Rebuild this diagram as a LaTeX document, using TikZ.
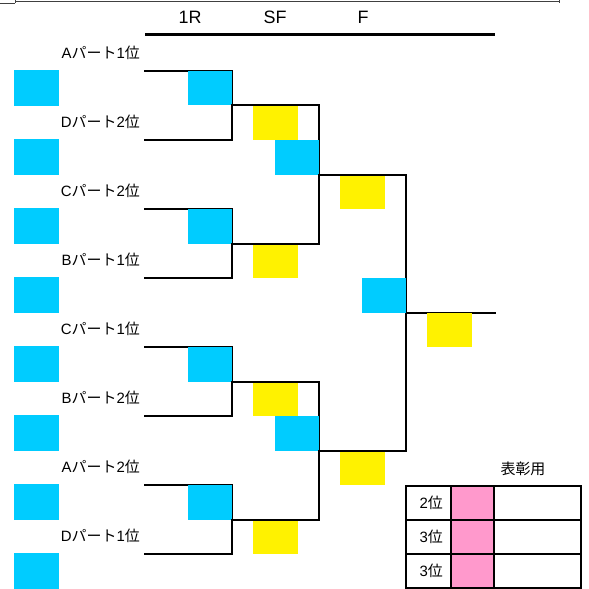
\documentclass[tikz,border=0pt]{standalone}
\usepackage{fontspec}
\setmainfont{Liberation Sans}
\newfontfamily\jp{Noto Sans CJK JP}
\usetikzlibrary{positioning}
\definecolor{SeedCyan}{HTML}{00CCFF}
\definecolor{WinYellow}{HTML}{FFF200}
\definecolor{AwardPink}{HTML}{FF99CC}
\tikzset{
  % Box styles
  seedbox/.style={rectangle, fill=SeedCyan, inner sep=0pt, outer sep=0pt, minimum width=44bp, minimum height=34.5bp},
  winbox/.style={rectangle, fill=WinYellow, inner sep=0pt, outer sep=0pt, minimum width=45bp, minimum height=34.5bp},
  rankcell/.style={rectangle, draw=black, line width=2.5bp, inner sep=0pt, outer sep=0pt, minimum height=34bp, anchor=north west},
  % Line styles
  bracket/.style={line width=2bp, black, line cap=rect},
  % Text styles
  teamlabel/.style={anchor=east, inner sep=0pt, font=\fontsize{15}{17}\selectfont},
  roundlabel/.style={inner sep=0pt, font=\fontsize{18}{20}\selectfont},
  ranklabel/.style={anchor=east, inner sep=0pt, font=\fontsize{15}{17}\selectfont}
}
\begin{document}
\begin{tikzpicture}[x=1bp, y=-1bp]
  \useasboundingbox (0,0) rectangle (589,589);
  % Frame edge at the top
  \draw[line width=0.8bp, black!75] (0,3) -- (15,3) (15,0) -- (15,3) (15,1.5) -- (559,1.5) (559,0) -- (559,3);

  % Round headings
  \node[roundlabel] (r1) at (190,17) {1R};
  \node[roundlabel] (sf) at (275,17) {SF};
  \node[roundlabel] (fi) at (363,17) {F};
  \coordinate (hl) at (145,35);
  \coordinate (hr) at (495,35);
  \draw[line width=3bp] (hl) -- (hr);

  % Entries
  \foreach \p/\r [count=\i from 0] in {A/1,D/2,C/2,B/1,C/1,B/2,A/2,D/1} {
    \coordinate (row\i) at (145,{71+69*\i});
    \node[teamlabel] (lab\i) at ([xshift=-5bp, yshift=18bp]row\i) {\p{\jp パート}\r{\jp 位}};
    \node[seedbox, anchor=north west, minimum width=45bp, minimum height=36bp] (s\i) at ([xshift=-131bp, yshift=1bp]row\i) {};
  }

  % 1R
  \foreach \k in {0,1,2,3} {
    \pgfmathtruncatemacro\a{2*\k}
    \pgfmathtruncatemacro\b{2*\k+1}
    \coordinate (q\k) at (232,{105.5+138*\k});
    \draw[bracket] (row\a) -| (q\k) |- (row\b);
    \node[seedbox, anchor=south east] (qc\k) at (q\k) {};
    \node[winbox, anchor=north west] (qy\k) at ([xshift=21bp]q\k) {};
  }

  % SF
  \foreach \j in {0,1} {
    \pgfmathtruncatemacro\a{2*\j}
    \pgfmathtruncatemacro\b{2*\j+1}
    \coordinate (h\j) at (319,{174.5+276*\j});
    \draw[bracket] (q\a) -| (h\j) |- (q\b);
    \node[seedbox, anchor=south east] (hc\j) at (h\j) {};
    \node[winbox, anchor=north west] (hy\j) at ([xshift=21bp]h\j) {};
  }

  % F
  \coordinate (fj) at (406,312.5);
  \coordinate (champ) at (495,312.5);
  \draw[bracket] (h0) -| (fj) |- (h1);
  \draw[bracket] (fj) -- (champ);
  \node[seedbox, anchor=south east] (fc) at (fj) {};
  \node[winbox, anchor=north west] (fy) at ([xshift=21bp]fj) {};

  % Award table
  \node[inner sep=0pt, font=\jp\fontsize{15}{17}\selectfont] (award) at (523,469) {表彰用};
  \foreach \r [count=\i from 0] in {2,3,3} {
    \node[rankcell, minimum width=45bp] (ra\i) at (406,{486+34*\i}) {};
    \node[rankcell, minimum width=43bp, fill=AwardPink] (rb\i) at (ra\i.north east) {};
    \node[rankcell, minimum width=87bp] (rc\i) at (rb\i.north east) {};
    \node[ranklabel] (rt\i) at ([xshift=-8bp]ra\i.east) {\r{\jp 位}};
  }
\end{tikzpicture}
\end{document}
